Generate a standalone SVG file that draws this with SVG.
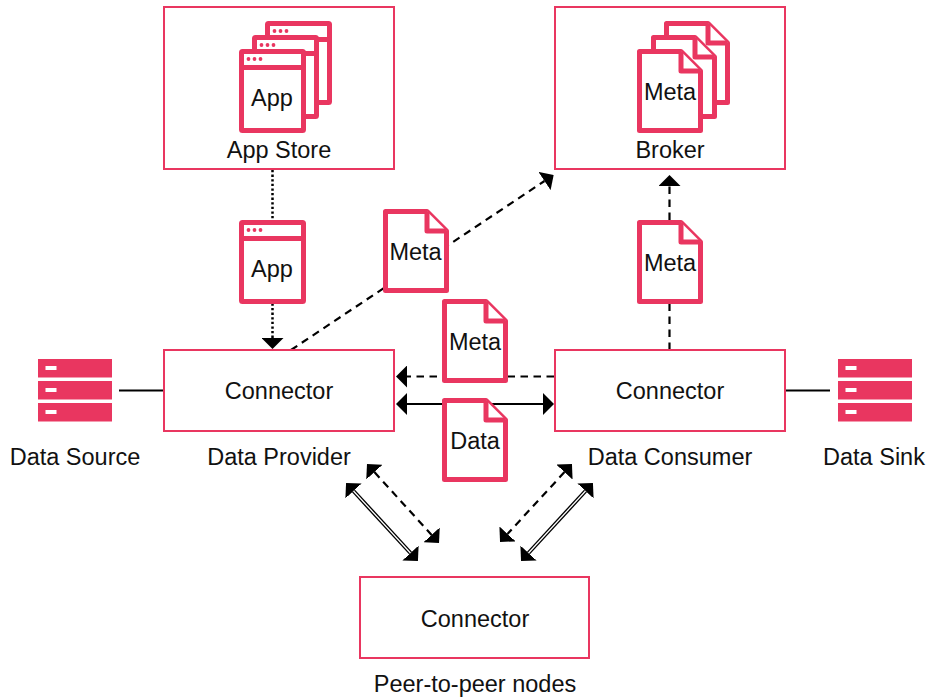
<svg xmlns="http://www.w3.org/2000/svg" width="941" height="699" viewBox="0 0 941 699">
<style>
.box{fill:#fff;stroke:#e93660;stroke-width:2}
.ic{fill:#fff;stroke:#e93660;stroke-width:5;stroke-linejoin:round}
.dot{fill:#e93660}
.srv{fill:#e93660}
.slot{fill:#fff}
text{font-family:"Liberation Sans",Arial,sans-serif;font-size:23.5px;fill:#111;text-anchor:middle}
.c{fill:none;stroke:#000;stroke-width:2.2}
.dash{stroke-dasharray:7.5 5.5}
.dotted{stroke-dasharray:2.3 2.3;stroke-width:2.5}
.dbl{stroke-width:4}
.dblw{fill:none;stroke:#fff;stroke-width:1.3}
</style>
<defs>
<marker id="ah" markerUnits="userSpaceOnUse" markerWidth="11" markerHeight="22" refX="0" refY="11" orient="auto-start-reverse" viewBox="0 0 11 22"><path d="M0,0L11,11L0,22Z" fill="#000"/></marker>
<g id="win"><rect class="ic" x="2.500" y="2.500" width="62" height="79" rx="1"/><path class="ic" d="M2.500,18.500H64.500"/><circle class="dot" cx="9.500" cy="10" r="1.900"/><circle class="dot" cx="15.500" cy="10" r="1.900"/><circle class="dot" cx="21.500" cy="10" r="1.900"/></g>
<g id="doc"><path class="ic" d="M2.500,2.500H44L63.500,22V81.500H2.500Z"/><path class="ic" d="M44,2.500V22H63.500"/></g>
<g id="server"><rect class="srv" x="0" y="0" width="74" height="18.500"/><rect class="srv" x="0" y="22" width="74" height="18.500"/><rect class="srv" x="0" y="44" width="74" height="18.500"/><rect class="slot" x="7.500" y="7" width="11" height="4"/><rect class="slot" x="7.500" y="29" width="11" height="4"/><rect class="slot" x="7.500" y="51" width="11" height="4"/></g>
</defs>
<rect width="941" height="699" fill="#fff"/>
<g id="connectors">
<path class="c dotted" d="M272.500,170V338" marker-end="url(#ah)"/>
<path class="c dash" d="M291,350L544.500,181" marker-end="url(#ah)"/>
<path class="c dash" d="M669.500,350V186" marker-end="url(#ah)"/>
<path class="c dash" d="M554,376.500H407" marker-end="url(#ah)"/>
<path class="c" d="M407,404H543" marker-start="url(#ah)" marker-end="url(#ah)"/>
<path class="c" d="M119,390.500H164"/>
<path class="c" d="M786,390.500H830"/>
<path class="c dash" d="M374.400,472.100L431.600,534.900" marker-start="url(#ah)" marker-end="url(#ah)"/>
<path class="c dash" d="M564.500,472.100L507.500,533.900" marker-start="url(#ah)" marker-end="url(#ah)"/>
<path class="c dbl" d="M353.500,491L410.500,553" marker-start="url(#ah)" marker-end="url(#ah)"/>
<path class="dblw" d="M353.500,491L410.500,553"/>
<path class="c dbl" d="M585.500,491L528.500,553" marker-start="url(#ah)" marker-end="url(#ah)"/>
<path class="dblw" d="M585.500,491L528.500,553"/>
</g>
<g id="app-store"><rect class="box" x="164" y="7" width="230" height="162"/>
<use href="#win" x="265" y="21"/><use href="#win" x="252" y="35"/><use href="#win" x="239" y="49"/>
<text x="272" y="106">App</text><text x="279" y="158">App Store</text></g>
<g id="broker"><rect class="box" x="555" y="7" width="230" height="162"/>
<use href="#doc" x="664" y="21"/><use href="#doc" x="651" y="35"/><use href="#doc" x="637" y="49"/>
<text x="670" y="100">Meta</text><text x="670" y="158">Broker</text></g>
<g id="app-transfer"><use href="#win" x="239" y="220"/><text x="272" y="277">App</text></g>
<g id="meta-provider"><use href="#doc" x="383" y="209"/><text x="415.500" y="260">Meta</text></g>
<g id="meta-consumer"><use href="#doc" x="637" y="220"/><text x="670" y="271">Meta</text></g>
<g id="connector-provider"><rect class="box" x="164" y="350" width="230" height="81"/><text x="279" y="399">Connector</text><text x="279" y="465">Data Provider</text></g>
<g id="connector-consumer"><rect class="box" x="555" y="350" width="230" height="81"/><text x="670" y="399">Connector</text><text x="670" y="465">Data Consumer</text></g>
<g id="meta-exchange"><use href="#doc" x="442" y="299"/><text x="475" y="350">Meta</text></g>
<g id="data-exchange"><use href="#doc" x="442" y="398"/><text x="475" y="449">Data</text></g>
<g id="data-source"><use href="#server" x="38" y="359"/><text x="75" y="465">Data Source</text></g>
<g id="data-sink"><use href="#server" x="838" y="359"/><text x="874" y="465">Data Sink</text></g>
<g id="connector-peer"><rect class="box" x="360" y="577" width="229" height="81"/><text x="475" y="627">Connector</text><text x="475" y="692">Peer-to-peer nodes</text></g>
</svg>
